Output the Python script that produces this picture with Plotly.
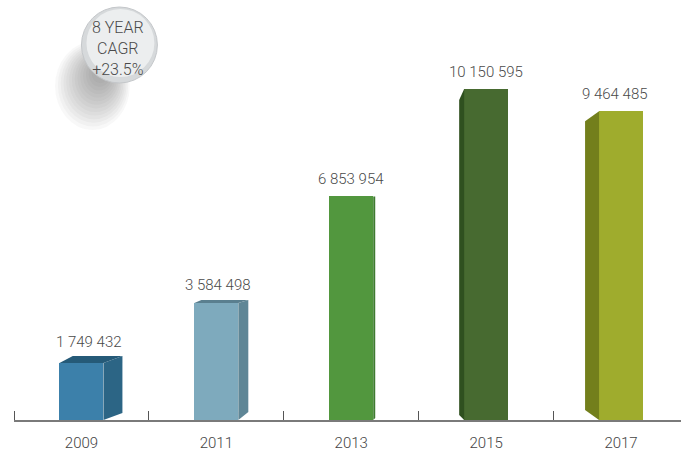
import plotly.graph_objects as go

# data
years = ["2009", "2011", "2013", "2015", "2017"]
values = [1749432, 3584498, 6853954, 10150595, 9464485]
cagr_lines = ["8 YEAR", "CAGR", "+23.5%"]

# styling per bar
front_colors = ["#3c80aa", "#7eaabd", "#52973e", "#476a30", "#9fac2d"]
side_colors = ["#2c6585", "#5f8696", "#3f7b30", "#2f501f", "#737f1c"]
top_colors = ["#255a78", "#5a7f8f", "#3f7b30", "#2f501f", "#737f1c"]
# side face: direction, depth (px), top shift (px, +up), bottom shift (px, +up)
side_dir = [1, 1, 1, -1, -1]
side_dx = [19, 10, 2, 5, 14]
side_dyt = [7, 3, 0, -11, -10]
side_dyb = [7, 8, 2, 5, 10]
label_dx = [8, 2, 0, 0, -6]

W, H = 681, 454
ML, MB = 13.5, 34
PLOT_W, PLOT_H = W - ML, H - MB
CAT_PX = 135.0
YMAX = 12.879e6
XPX = 1.0 / CAT_PX
YPX = YMAX / PLOT_H
BAR_W = 44 * XPX
FONT = "Roboto"

xs = list(range(len(years)))

fig = go.Figure()

fig.add_trace(go.Bar(
    x=xs, y=values, width=BAR_W,
    marker=dict(color=front_colors, line=dict(width=0)),
    hoverinfo="skip", showlegend=False,
))

# 3D side and top faces
for i, v in enumerate(values):
    d = side_dir[i]
    edge = i + d * BAR_W / 2
    dx = d * side_dx[i] * XPX
    yt = v + side_dyt[i] * YPX
    yb = side_dyb[i] * YPX
    fig.add_trace(go.Scatter(
        x=[edge, edge + dx, edge + dx, edge, edge],
        y=[v, yt, yb, 0, v],
        mode="lines", fill="toself", fillcolor=side_colors[i],
        line=dict(width=0), hoverinfo="skip", showlegend=False,
    ))
    if d > 0 and side_dyt[i] > 0:
        xl, xr = i - BAR_W / 2, i + BAR_W / 2
        fig.add_trace(go.Scatter(
            x=[xl, xl + dx * 0.7, xr + dx, xr, xl],
            y=[v, yt, yt, v, v],
            mode="lines", fill="toself", fillcolor=top_colors[i],
            line=dict(width=0), hoverinfo="skip", showlegend=False,
        ))

# value labels
for i, v in enumerate(values):
    fig.add_annotation(
        x=i, y=v, text=f"{v:,}".replace(",", " "),
        showarrow=False, xshift=label_dx[i], yshift=17 + max(side_dyt[i], 0) * 0.5,
        yanchor="middle",
        font=dict(family=FONT, size=15, color="#4a4a4a", weight=300),
    )


def px_to_paper(x, y):
    return (x - ML) / PLOT_W, 1 - y / PLOT_H


# CAGR bubble soft shadow (stacked translucent discs)
cx, cy, r = 119, 45, 38
for k in range(14):
    rr = 44 - k * 2.6
    ox, oy = 92 + k * 0.6, 86 - k * 1.0
    x0, y0 = px_to_paper(ox - rr * 0.85, oy - rr)
    x1, y1 = px_to_paper(ox + rr * 0.85, oy + rr)
    fig.add_shape(type="circle", xref="paper", yref="paper",
                  x0=x0, y0=y0, x1=x1, y1=y1,
                  fillcolor="rgba(70,70,70,0.04)", line=dict(width=0), layer="above")

x0, y0 = px_to_paper(cx - r, cy - r)
x1, y1 = px_to_paper(cx + r, cy + r)
fig.add_shape(type="circle", xref="paper", yref="paper", x0=x0, y0=y0, x1=x1, y1=y1,
              fillcolor="#d6d9db", line=dict(color="#c4c7ca", width=1), layer="above")
r2 = r - 4
x0, y0 = px_to_paper(cx - r2 + 1, cy - r2 - 2)
x1, y1 = px_to_paper(cx + r2 + 1, cy + r2 - 2)
fig.add_shape(type="circle", xref="paper", yref="paper", x0=x0, y0=y0, x1=x1, y1=y1,
              fillcolor="#eceeef", line=dict(width=0), layer="above")

tx, ty = px_to_paper(cx - 1, cy + 3)
fig.add_annotation(
    xref="paper", yref="paper", x=tx, y=ty, xanchor="center", yanchor="middle",
    text="<br>".join(cagr_lines), showarrow=False, align="center",
    font=dict(family=FONT, size=16, color="#4a4a4a", weight=300),
)

fig.update_layout(
    width=W, height=H,
    margin=dict(l=ML, r=0, t=0, b=MB),
    paper_bgcolor="white", plot_bgcolor="white",
    bargap=0,
    xaxis=dict(
        range=[-0.5, -0.5 + PLOT_W / CAT_PX],
        tickvals=xs, ticktext=years, ticks="",
        showline=True, linecolor="#7a7a7a", linewidth=2,
        showgrid=False, zeroline=False, fixedrange=True,
        tickfont=dict(family=FONT, size=15, color="#444444", weight=300),
        ticklabelstandoff=8,
        minor=dict(tickvals=[x - 0.5 for x in xs] + [len(xs) - 0.5],
                   ticks="inside", ticklen=9, tickwidth=1, tickcolor="#555555"),
    ),
    yaxis=dict(range=[0, YMAX], visible=False, fixedrange=True),
)

fig.write_html("out.html", config={"displayModeBar": False},
               post_script="document.body.style.margin='0';")
